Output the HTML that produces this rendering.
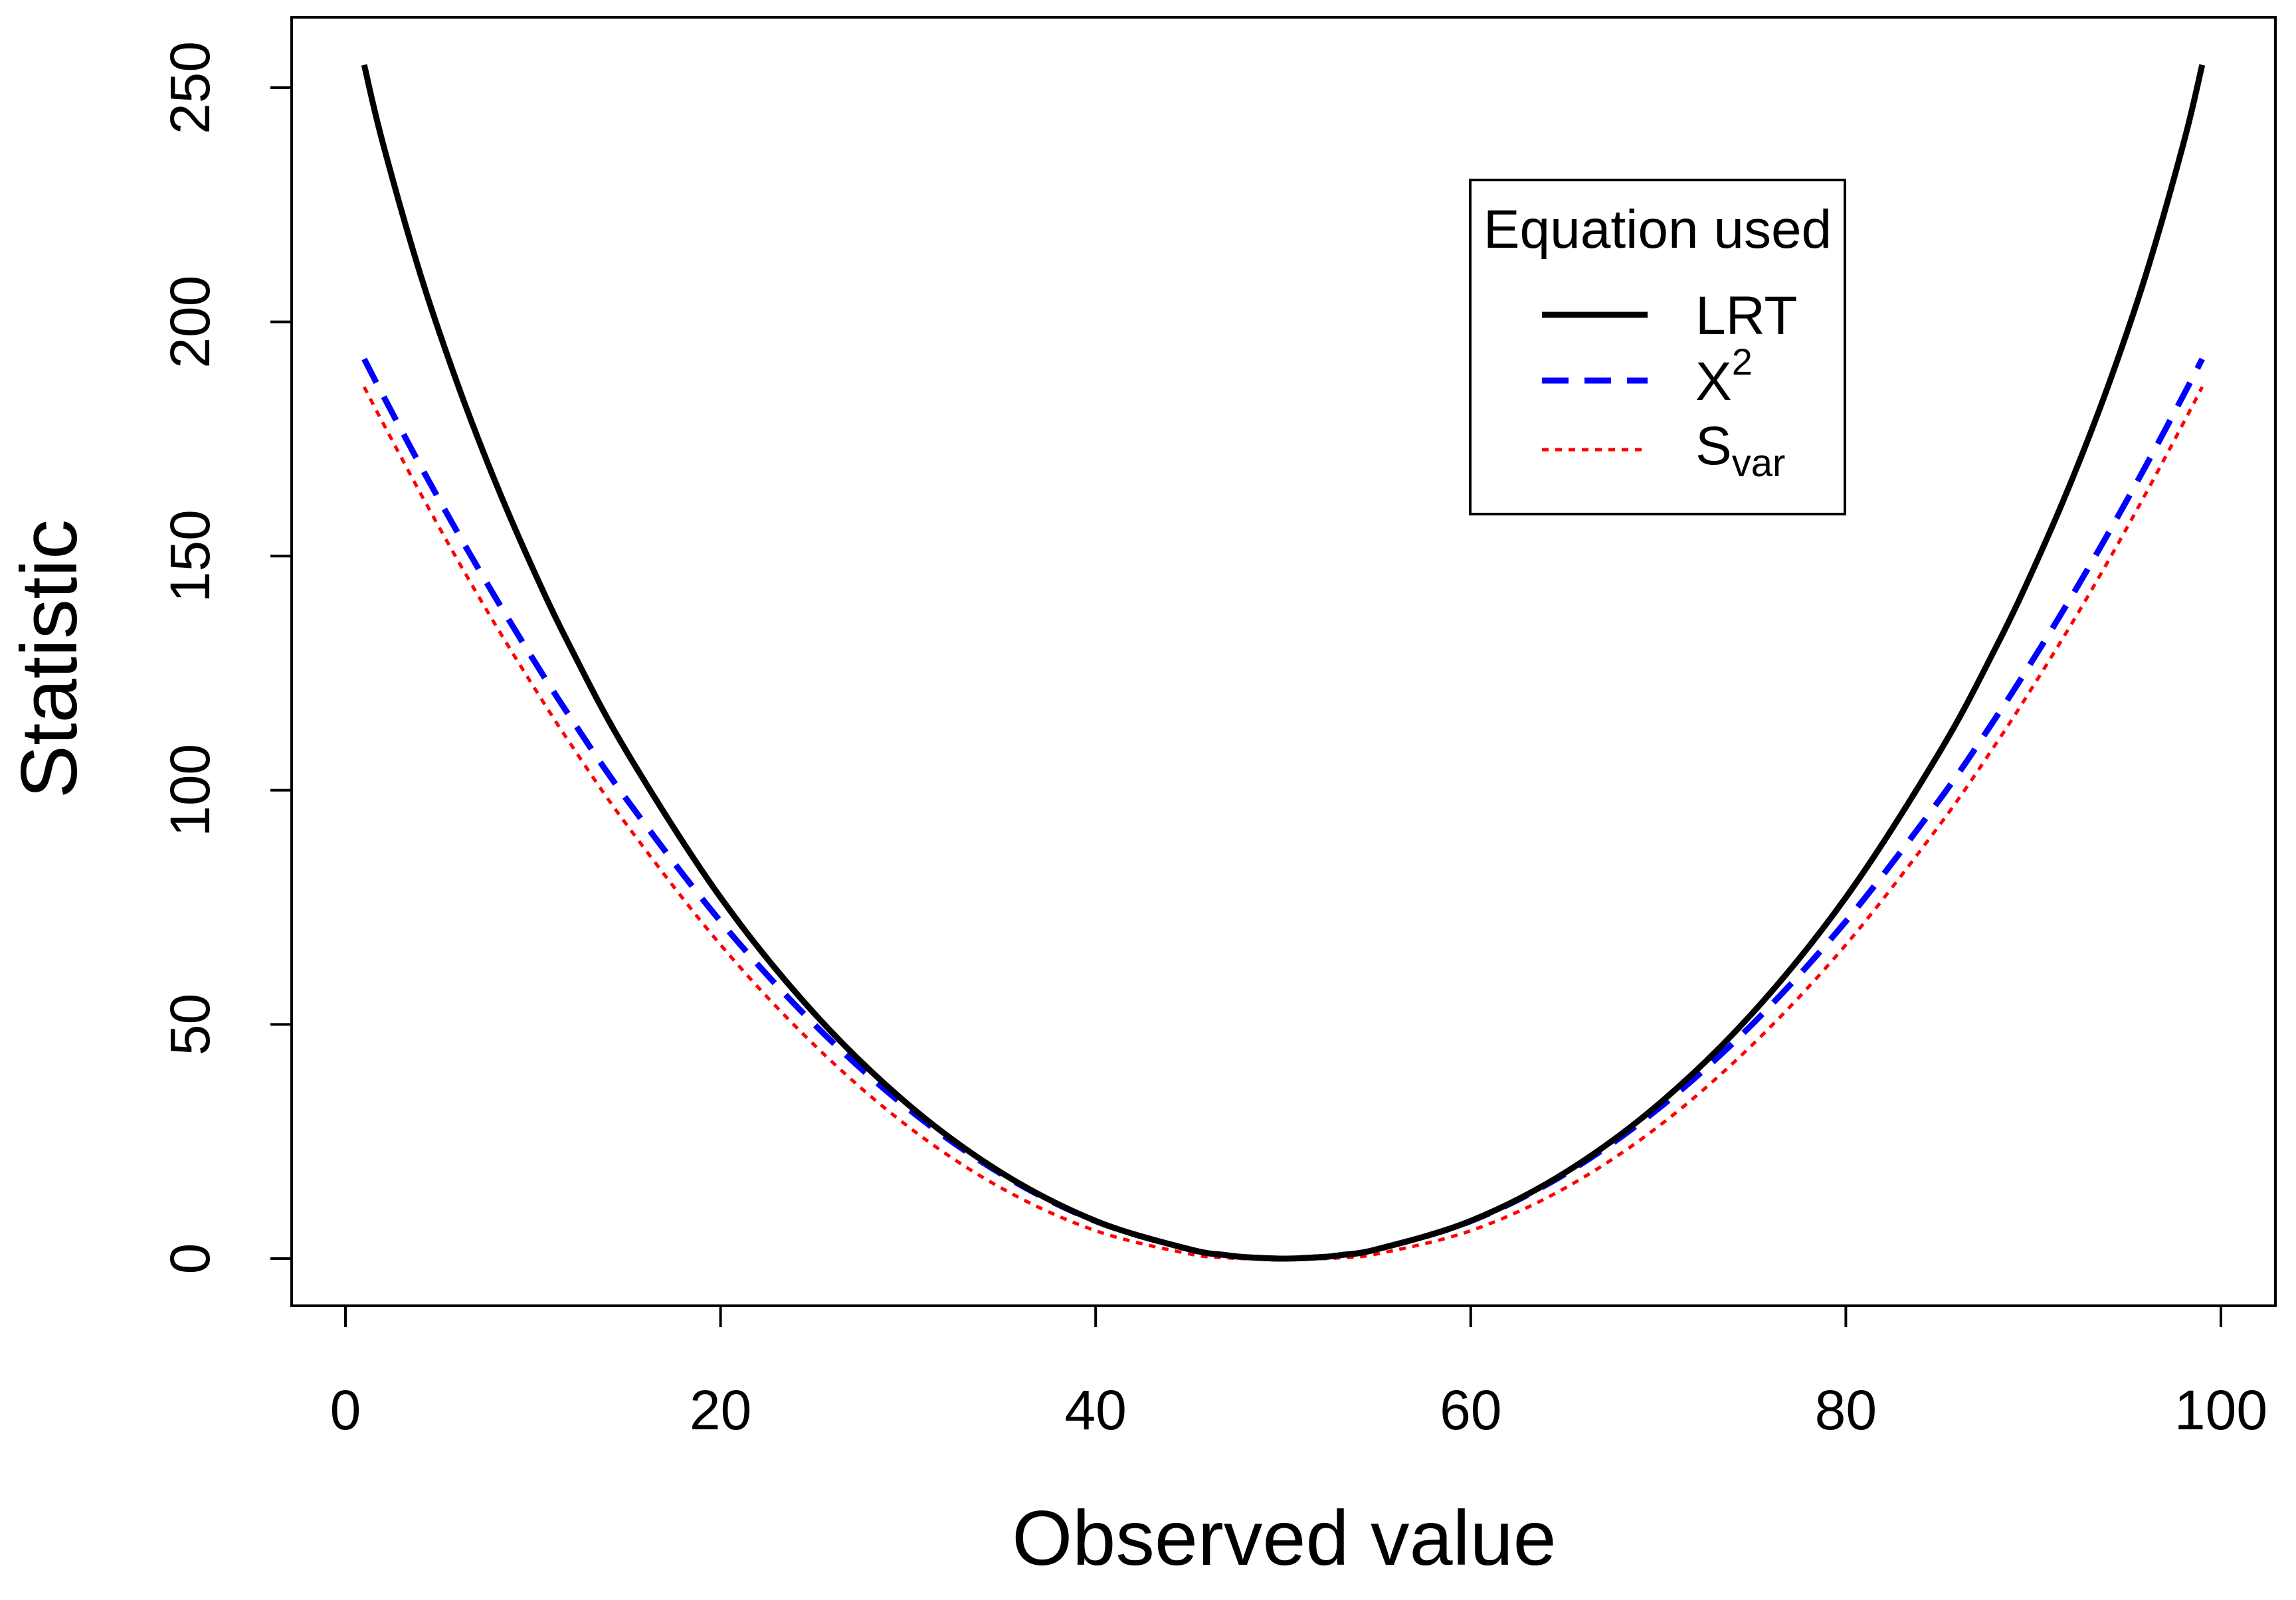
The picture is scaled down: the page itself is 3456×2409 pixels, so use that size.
<!DOCTYPE html>
<html><head><meta charset="utf-8">
<style>
html,body{margin:0;padding:0;background:#fff;}
svg{display:block;font-family:"Liberation Sans",Arial,sans-serif;}
</style></head>
<body>
<svg id="chart" width="3456" height="2409" viewBox="0 0 3456 2409" xmlns="http://www.w3.org/2000/svg">
<rect x="0" y="0" width="3456" height="2409" fill="#fff"/>
<g id="plot"></g>
</svg>
<script>
const xValues = [1,2,4,6,8,10,12,15,20,25,30,35,40,45,47,48,50,52,53,55,60,65,70,75,80,85,88,90,92,94,96,98,99];
const lrtValues = [254.86,238.04,210.08,186.47,165.75,147.23,130.49,108.17,77.10,52.32,32.91,18.28,8.05,2.00,0.72,0.32,0,0.32,0.72,2.00,8.05,18.28,32.91,52.32,77.10,108.17,130.49,147.23,165.75,186.47,210.08,238.04,254.86];
const chiValues = [192.08,184.32,169.28,154.88,141.12,128,115.52,98,72,50,32,18,8,2,0.72,0.32,0,0.32,0.72,2,8,18,32,50,72,98,115.52,128,141.12,154.88,169.28,184.32,192.08];
const svarValues = [186.1,178.4,163.4,149.0,135.3,122.3,109.9,92.6,67.0,45.6,28.2,15.0,5.96,1.01,0.19,0,0,0,0.19,1.01,5.96,15.0,28.2,45.6,67.0,92.6,109.9,122.3,135.3,149.0,163.4,178.4,186.1];
const xTicks = [0,20,40,60,80,100];
const yTicks = [0,50,100,150,200,250];

const NS="http://www.w3.org/2000/svg";
const g=document.getElementById('plot');
const X0=520,X1=3343,Y0=1895,Y1=132;
function sx(v){return X0+(X1-X0)*v/100;}
function sy(v){return Y0+(Y1-Y0)*v/250;}
function el(t,a){const e=document.createElementNS(NS,t);for(const k in a)e.setAttribute(k,a[k]);g.appendChild(e);return e;}

const box=el('rect',{x:439,y:26,width:2986,height:1940,fill:'none',stroke:'#000','stroke-width':4});



xTicks.forEach(t=>{
  const l=el('line',{x1:sx(t),x2:sx(t),y1:1966,y2:1998,stroke:'#000','stroke-width':4});
  
  
  const tx=el('text',{x:sx(t),y:2152,'text-anchor':'middle','font-size':84});
  tx.textContent=t;
  
  
});
yTicks.forEach(t=>{
  const l=el('line',{x1:439,x2:407,y1:sy(t),y2:sy(t),stroke:'#000','stroke-width':4});
  
  
  const tx=el('text',{x:0,y:0,'text-anchor':'middle','font-size':84,transform:`translate(315,${sy(t)}) rotate(-90)`});
  tx.textContent=t;
  
  
});
const xt=el('text',{x:1933,y:2356,'text-anchor':'middle','font-size':117});
xt.textContent='Observed value';


const yt=el('text',{x:0,y:0,'text-anchor':'middle','font-size':120,transform:'translate(115,992) rotate(-90)'});
yt.textContent='Statistic';



function path(vals){
  const p=xValues.map((x,i)=>[sx(x),sy(vals[i])]);
  let d='M'+p[0][0].toFixed(1)+','+p[0][1].toFixed(1);
  for(let i=0;i<p.length-1;i++){
    const a=p[i-1]||p[i],b=p[i],c=p[i+1],e=p[i+2]||c;
    const c1=[b[0]+(c[0]-a[0])/6,Math.min(Y0,b[1]+(c[1]-a[1])/6)];
    const c2=[c[0]-(e[0]-b[0])/6,Math.min(Y0,c[1]-(e[1]-b[1])/6)];
    d+=' C'+c1.map(v=>v.toFixed(1)).join(',')+' '+c2.map(v=>v.toFixed(1)).join(',')+' '+c.map(v=>v.toFixed(1)).join(',');
  }
  return d;
}
const pS=el('path',{d:path(svarValues),fill:'none',stroke:'#ff0000','stroke-width':5,'stroke-dasharray':'10 10'});


const pC=el('path',{d:path(chiValues),fill:'none',stroke:'#0000ff','stroke-width':9,'stroke-dasharray':'40 24'});


const pL=el('path',{d:path(lrtValues),fill:'none',stroke:'#000','stroke-width':9});


</script>
<svg style="position:absolute;left:0;top:0" width="3456" height="2409" xmlns="http://www.w3.org/2000/svg">
<g font-family="Liberation Sans, Arial, sans-serif">
<rect x="2213" y="271" width="564" height="503" fill="#fff" stroke="#000" stroke-width="4"/>
<text x="2495" y="373" text-anchor="middle" font-size="82">Equation used</text>
<line x1="2321" x2="2480" y1="474" y2="474" stroke="#000" stroke-width="9"/>
<text x="2552" y="503" font-size="82">LRT</text>
<line x1="2321" x2="2480" y1="573" y2="573" stroke="#0000ff" stroke-width="9" stroke-dasharray="40 24"/>
<text x="2552" y="602" font-size="82">X<tspan font-size="56" dy="-38">2</tspan></text>
<line x1="2321" x2="2480" y1="677" y2="677" stroke="#ff0000" stroke-width="5" stroke-dasharray="10 10"/>
<text x="2552" y="699" font-size="82">S<tspan font-size="58" dy="18">var</tspan></text>
</g>
</svg>
</body></html>
